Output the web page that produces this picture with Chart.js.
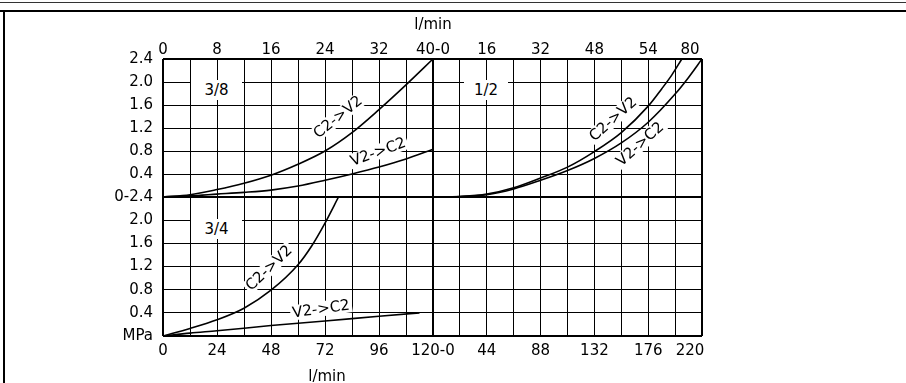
<!DOCTYPE html>
<html><head><meta charset="utf-8">
<script src="https://cdn.jsdelivr.net/npm/chart.js@4"></script>
<style>
html,body{margin:0;padding:0;background:#fff;}
#wrap{position:relative;width:906px;height:383px;overflow:hidden;background:#fff;font-family:"DejaVu Sans",sans-serif;font-size:15px;color:#000;}
canvas{position:absolute;left:0;top:0;}
.t{position:absolute;white-space:nowrap;line-height:15px;transform:translate(-50%,-50%);}
.w{background:#fff;padding:0 2px;}
.box{position:absolute;background:#fff;display:flex;align-items:center;justify-content:center;line-height:15px;}
.ln{position:absolute;background:#000;}
</style></head>
<body><div id="wrap">
<div class="ln" style="left:0;top:2px;width:906px;height:1px;background:#333"></div>
<div class="ln" style="left:0;top:10px;width:906px;height:2px"></div>
<div class="ln" style="left:3px;top:10px;width:2px;height:373px"></div>
<canvas id="cTL" width="906" height="383"></canvas>
<canvas id="cTR" width="906" height="383"></canvas>
<canvas id="cBL" width="906" height="383"></canvas>
<canvas id="cBR" width="906" height="383"></canvas>
<div class="t" style="left:433px;top:24px">l/min</div>
<div class="t" style="left:327px;top:376px">l/min</div>
<div class="box" style="left:191px;top:80px;width:51px;height:20px">3/8</div>
<div class="box" style="left:464px;top:80px;width:44px;height:20px">1/2</div>
<div class="box" style="left:191px;top:219px;width:51px;height:20px">3/4</div>
<div class="t w" style="left:338px;top:117px;transform:translate(-50%,-50%) rotate(-39deg)">C2-&gt;V2</div>
<div class="t w" style="left:378px;top:152px;transform:translate(-50%,-50%) rotate(-20deg)">V2-&gt;C2</div>
<div class="t w" style="left:613px;top:119px;transform:translate(-50%,-50%) rotate(-42deg)">C2-&gt;V2</div>
<div class="t w" style="left:640px;top:144px;transform:translate(-50%,-50%) rotate(-42deg)">V2-&gt;C2</div>
<div class="t w" style="left:269px;top:268px;transform:translate(-50%,-50%) rotate(-44deg)">C2-&gt;V2</div>
<div class="t w" style="left:321px;top:309px;transform:translate(-50%,-50%) rotate(-8deg)">V2-&gt;C2</div>
</div>
<script>
// ---- tick labels ----
const xTicksTopLeft  = ['0','','8','','16','','24','','32','','40-0'];
const xTicksTopRight = ['','','16','','32','','48','','54','','80     '];
const xTicksBotLeft  = ['0','','24','','48','','72','','96','','120-0'];
const xTicksBotRight = ['','','44','','88','','132','','176','','220     '];
const yTicksTop = ['0-2.4','0.4','0.8','1.2','1.6','2.0','2.4'];
const yTicksBot = ['MPa','0.4','0.8','1.2','1.6','2.0',''];

// ---- 3/8 (flow 0-40 l/min, pressure MPa) ----
const q38_c2v2 = [0,4,8,12,16,20,24,28,32,36,40];
const p38_c2v2 = [0,0.04,0.13,0.24,0.38,0.57,0.80,1.12,1.52,1.95,2.4];
const q38_v2c2 = [0,4,8,12,16,20,24,28,32,36,40];
const p38_v2c2 = [0,0.02,0.05,0.08,0.12,0.19,0.29,0.40,0.52,0.66,0.83];

// ---- 1/2 (flow 0-80 l/min) ----
const q12_c2v2 = [0,8,16,24,32,40,48,56,64,68,71,74];
const p12_c2v2 = [0,0.01,0.05,0.16,0.33,0.52,0.79,1.12,1.58,1.88,2.12,2.4];
const q12_v2c2 = [0,8,16,24,32,40,48,56,64,72,76,80];
const p12_v2c2 = [0,0.01,0.04,0.14,0.29,0.46,0.67,0.94,1.30,1.79,2.08,2.4];

// ---- 3/4 (flow 0-120 l/min) ----
const q34_c2v2 = [0,12,24,36,48,60,66,72,78];
const p34_c2v2 = [0,0.13,0.28,0.48,0.79,1.23,1.55,1.95,2.4];
const q34_v2c2 = [0,12,24,48,72,96,114];
const p34_v2c2 = [0,0.05,0.09,0.18,0.26,0.34,0.40];

Chart.defaults.font.family = '"DejaVu Sans", sans-serif';
Chart.defaults.font.size = 15;
Chart.defaults.color = '#000';

function series(xs, ys){
  return {data: xs.map((x,i)=>({x:x, y:ys[i]})), showLine:true, borderColor:'#000',
    borderWidth:1.6, pointRadius:0, cubicInterpolationMode:'monotone', fill:false};
}
function gridOpts(){
  return {color:'#000', drawTicks:false,
    lineWidth: c => (c.index===0 || c.index===c.scale.ticks.length-1) ? 2 : 1};
}
function panel(id, cfg){
  new Chart(document.getElementById(id), {
    type:'scatter',
    data:{datasets: cfg.sets},
    options:{
      responsive:false, animation:false, events:[],
      layout:{padding:cfg.pad},
      plugins:{legend:{display:false}, tooltip:{enabled:false}},
      scales:{
        x:{type:'linear', position:cfg.xPos, min:0, max:cfg.xMax,
           grid:gridOpts(), border:{display:false},
           ticks:{stepSize:cfg.xMax/10, autoSkip:false, maxRotation:0,
                  padding: cfg.xPos==='top'?0:6,
                  callback:(v,i)=>cfg.xLabels[i]},
           afterFit:s=>{s.height=30;}},
        y:{type:'linear', position:'left', min:0, max:2.4,
           grid:gridOpts(), border:{display:false},
           ticks:{display:!!cfg.yLabels, stepSize:0.4, autoSkip:false, padding:10,
                  callback:(v,i)=>cfg.yLabels?cfg.yLabels[i]:''},
           afterFit:s=>{s.width=cfg.yLabels?60:0;}}
      }
    }
  });
}
panel('cTL',{xMax:40, xPos:'top', xLabels:xTicksTopLeft, yLabels:yTicksTop,
  pad:{left:103,right:473,top:29,bottom:186},
  sets:[series(q38_c2v2,p38_c2v2), series(q38_v2c2,p38_v2c2)]});
panel('cTR',{xMax:80, xPos:'top', xLabels:xTicksTopRight, yLabels:null,
  pad:{left:433,right:204,top:29,bottom:186},
  sets:[series(q12_c2v2,p12_c2v2), series(q12_v2c2,p12_v2c2)]});
panel('cBL',{xMax:120, xPos:'bottom', xLabels:xTicksBotLeft, yLabels:yTicksBot,
  pad:{left:103,right:473,top:197,bottom:17},
  sets:[series(q34_c2v2,p34_c2v2), series(q34_v2c2,p34_v2c2)]});
panel('cBR',{xMax:220, xPos:'bottom', xLabels:xTicksBotRight, yLabels:null,
  pad:{left:433,right:204,top:197,bottom:17},
  sets:[]});
</script>
</body></html>
